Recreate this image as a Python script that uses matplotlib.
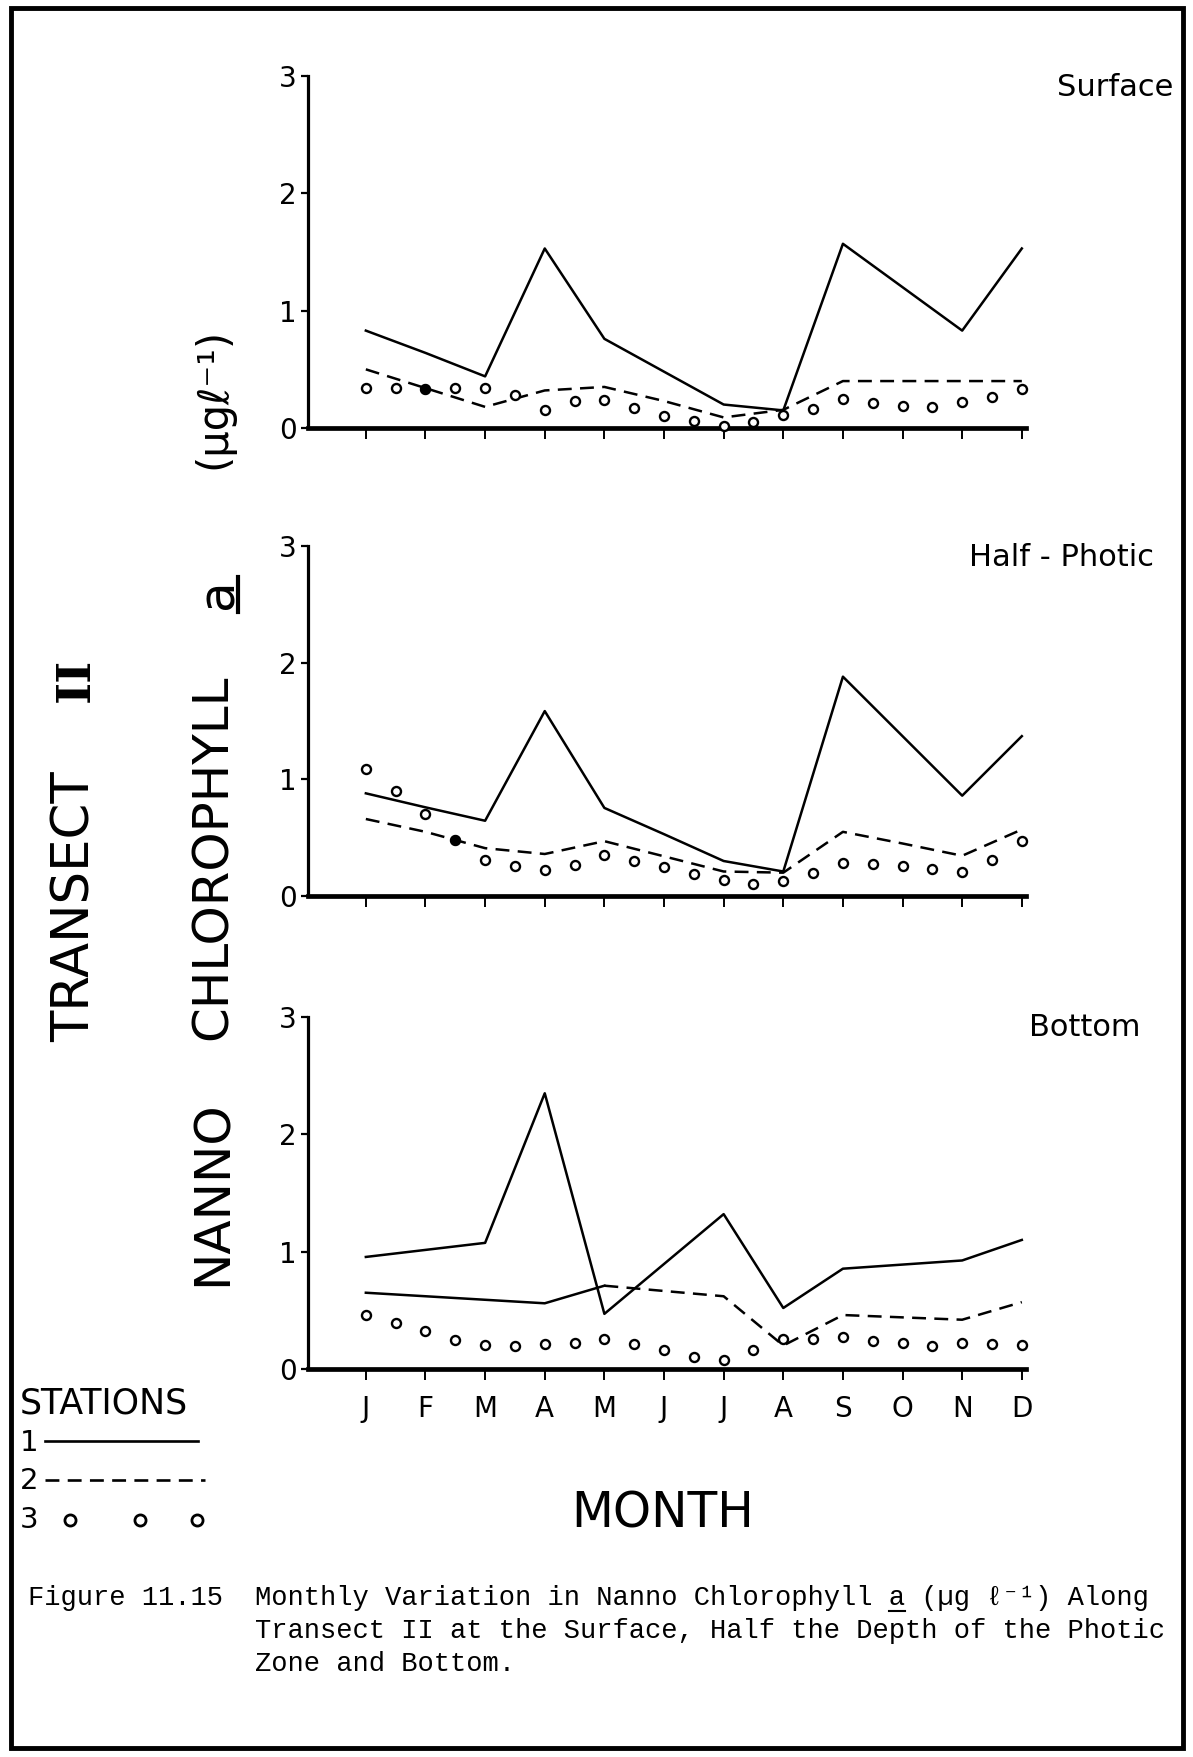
import matplotlib
matplotlib.use("Agg")
import matplotlib.pyplot as plt
import numpy as np
from matplotlib.patches import Rectangle

plt.rcParams["font.family"] = ["DejaVu Sans"]
plt.rcParams["lines.scale_dashes"] = False

# ---------------------------------------------------------------- data
months = ["J", "F", "M", "A", "M", "J", "J", "A", "S", "O", "N", "D"]
yticks = [0, 1, 2, 3]

# Stations 1 and 2: monthly values (ug/l)
surface_st1 = [0.83, 0.64, 0.44, 1.53, 0.76, 0.48, 0.20, 0.15, 1.57, 1.20, 0.83, 1.53]
surface_st2 = [0.50, 0.34, 0.18, 0.32, 0.35, 0.23, 0.09, 0.155, 0.40, 0.40, 0.40, 0.40]
half_st1 = [0.88, 0.76, 0.645, 1.585, 0.755, 0.53, 0.30, 0.21, 1.88, 1.37, 0.86, 1.37]
half_st2 = [0.66, 0.55, 0.41, 0.36, 0.47, 0.34, 0.21, 0.20, 0.55, 0.45, 0.345, 0.57]
bottom_st1 = [0.955, 1.015, 1.075, 2.35, 0.47, 0.895, 1.32, 0.52, 0.855, 0.89, 0.925, 1.10]
bottom_st2 = [0.65, 0.62, 0.59, 0.56, 0.71, 0.665, 0.62, 0.20, 0.46, 0.44, 0.42, 0.57]

# Station 3: semi-monthly values (ug/l)
surface_st3 = [0.34, 0.345, 0.33, 0.345, 0.345, 0.28, 0.15, 0.23, 0.24, 0.17, 0.10, 0.056,
               0.02, 0.05, 0.11, 0.16, 0.245, 0.21, 0.19, 0.175, 0.22, 0.26, 0.33]
half_st3 = [1.09, 0.90, 0.70, 0.48, 0.31, 0.26, 0.225, 0.27, 0.355, 0.30, 0.245, 0.185,
            0.135, 0.10, 0.13, 0.20, 0.28, 0.275, 0.255, 0.235, 0.21, 0.31, 0.47]
bottom_st3 = [0.46, 0.39, 0.325, 0.25, 0.205, 0.20, 0.21, 0.225, 0.255, 0.21, 0.165, 0.105,
              0.075, 0.165, 0.255, 0.255, 0.275, 0.24, 0.22, 0.20, 0.225, 0.21, 0.205]

month_x = np.arange(len(months))
half_x = np.arange(len(surface_st3)) * 0.5

# ---------------------------------------------------------------- layout
W, H = 1193, 1757
fig = plt.figure(figsize=(W / 100, H / 100), dpi=100)
fig.patch.set_facecolor("white")

DASH = (0, (10, 6))


def panel(top, bottom):
    left, right = 308, 1026
    return fig.add_axes([left / W, 1 - bottom / H, (right - left) / W, (bottom - top) / H],
                        facecolor="none")


# name, top px, bottom px, station series, filled dot indices,
# number of leading months of station 2 inked solid
panels = [
    ("Surface", 76, 428, surface_st1, surface_st2, surface_st3, [2], 0),
    ("Half - Photic", 546, 896, half_st1, half_st2, half_st3, [3], 0),
    ("Bottom", 1017, 1369, bottom_st1, bottom_st2, bottom_st3, [], 5),
]

for i, (name, top, bot, s1, s2, s3, filled, solid_until) in enumerate(panels):
    ax = panel(top, bot)
    ax.plot(month_x, s1, color="k", lw=1.8, clip_on=False)
    if solid_until:
        ax.plot(month_x[:solid_until], s2[:solid_until], color="k", lw=1.8, clip_on=False)
        ax.plot(month_x[solid_until - 1:], s2[solid_until - 1:], color="k", lw=1.8,
                linestyle=DASH, clip_on=False)
    else:
        ax.plot(month_x, s2, color="k", lw=1.8, linestyle=DASH, clip_on=False)
    ax.plot(half_x, s3, linestyle="none", marker="o", ms=6.5, mfc="white", mec="k",
            mew=1.7, clip_on=False, zorder=4)
    for j in filled:
        ax.plot(half_x[j], s3[j], marker="o", ms=6.5, mfc="k", mec="k", clip_on=False, zorder=5)

    ax.set_xlim(-0.97, 11.07)
    ax.set_ylim(0, 3)
    for side in ("top", "right"):
        ax.spines[side].set_visible(False)
    ax.spines["left"].set_linewidth(2.3)
    ax.spines["bottom"].set_linewidth(3.4)
    ax.set_yticks(yticks)
    ax.set_yticklabels([str(t) for t in yticks])
    ax.set_xticks(month_x)
    ax.set_xticklabels(months if i == 2 else [""] * len(months))
    ax.tick_params(axis="y", direction="out", length=5, width=1.6, pad=3, labelsize=20)
    ax.tick_params(axis="x", direction="out", length=8, width=1.4, pad=11, labelsize=20)

# ---------------------------------------------------------------- annotations
ov = fig.add_axes([0, 0, 1, 1], facecolor="none")
ov.set_xlim(0, W)
ov.set_ylim(H, 0)
ov.axis("off")

# frame
ov.add_patch(Rectangle((11, 8), 1172, 1740, fill=False, lw=3.5, ec="k"))

# panel names
ov.text(1173, 87, "Surface", ha="right", va="center", fontsize=22)
ov.text(1154, 558, "Half - Photic", ha="right", va="center", fontsize=22)
ov.text(1140, 1028, "Bottom", ha="right", va="center", fontsize=22)

# vertical titles
ov.text(76, 907, "TRANSECT", rotation=90, ha="center", va="center", fontsize=37)
ov.text(76, 680, "II", rotation=90, ha="center", va="center", fontsize=34,
        family="DejaVu Serif", fontweight="bold")
ov.text(213, 1193, "NANNO", rotation=90, ha="center", va="center", fontsize=36)
ov.text(213, 857, "CHLOROPHYLL", rotation=90, ha="center", va="center", fontsize=36)
ov.text(218, 594, "a", rotation=90, ha="center", va="center", fontsize=36)
ov.plot([238, 238], [577, 612], color="k", lw=3)
ov.text(213, 398, "(μgℓ⁻¹)", rotation=90, ha="center", va="center", fontsize=30)

# legend
ov.text(20, 1404, "STATIONS", ha="left", va="center", fontsize=25)
ov.text(20, 1443, "1", ha="left", va="center", fontsize=21)
ov.plot([45, 198], [1441, 1441], color="k", lw=1.9)
ov.text(20, 1481, "2", ha="left", va="center", fontsize=21)
ov.plot([45, 205], [1480, 1480], color="k", lw=1.9, linestyle=DASH)
ov.text(20, 1520, "3", ha="left", va="center", fontsize=21)
ov.plot([70, 140, 197], [1520, 1520, 1520], linestyle="none", marker="o", ms=8,
        mfc="white", mec="k", mew=2.0)

# axis title
ov.text(663, 1514, "MONTH", ha="center", va="center", fontsize=35)

# caption
mono = ["Liberation Mono", "DejaVu Sans Mono"]
cap_fs = 19.5
ov.text(28, 1598, "Figure 11.15", ha="left", va="center", fontsize=cap_fs, family=mono)
ov.text(255, 1598, "Monthly Variation in Nanno Chlorophyll a (µg ℓ⁻¹) Along",
        ha="left", va="center", fontsize=cap_fs, family=mono)
ov.text(255, 1631, "Transect II at the Surface, Half the Depth of the Photic",
        ha="left", va="center", fontsize=cap_fs, family=mono)
ov.text(255, 1664, "Zone and Bottom.", ha="left", va="center", fontsize=cap_fs, family=mono)
ov.plot([889, 905], [1611, 1611], color="k", lw=1.5)

fig.savefig("out.png", dpi=100, facecolor="white")
